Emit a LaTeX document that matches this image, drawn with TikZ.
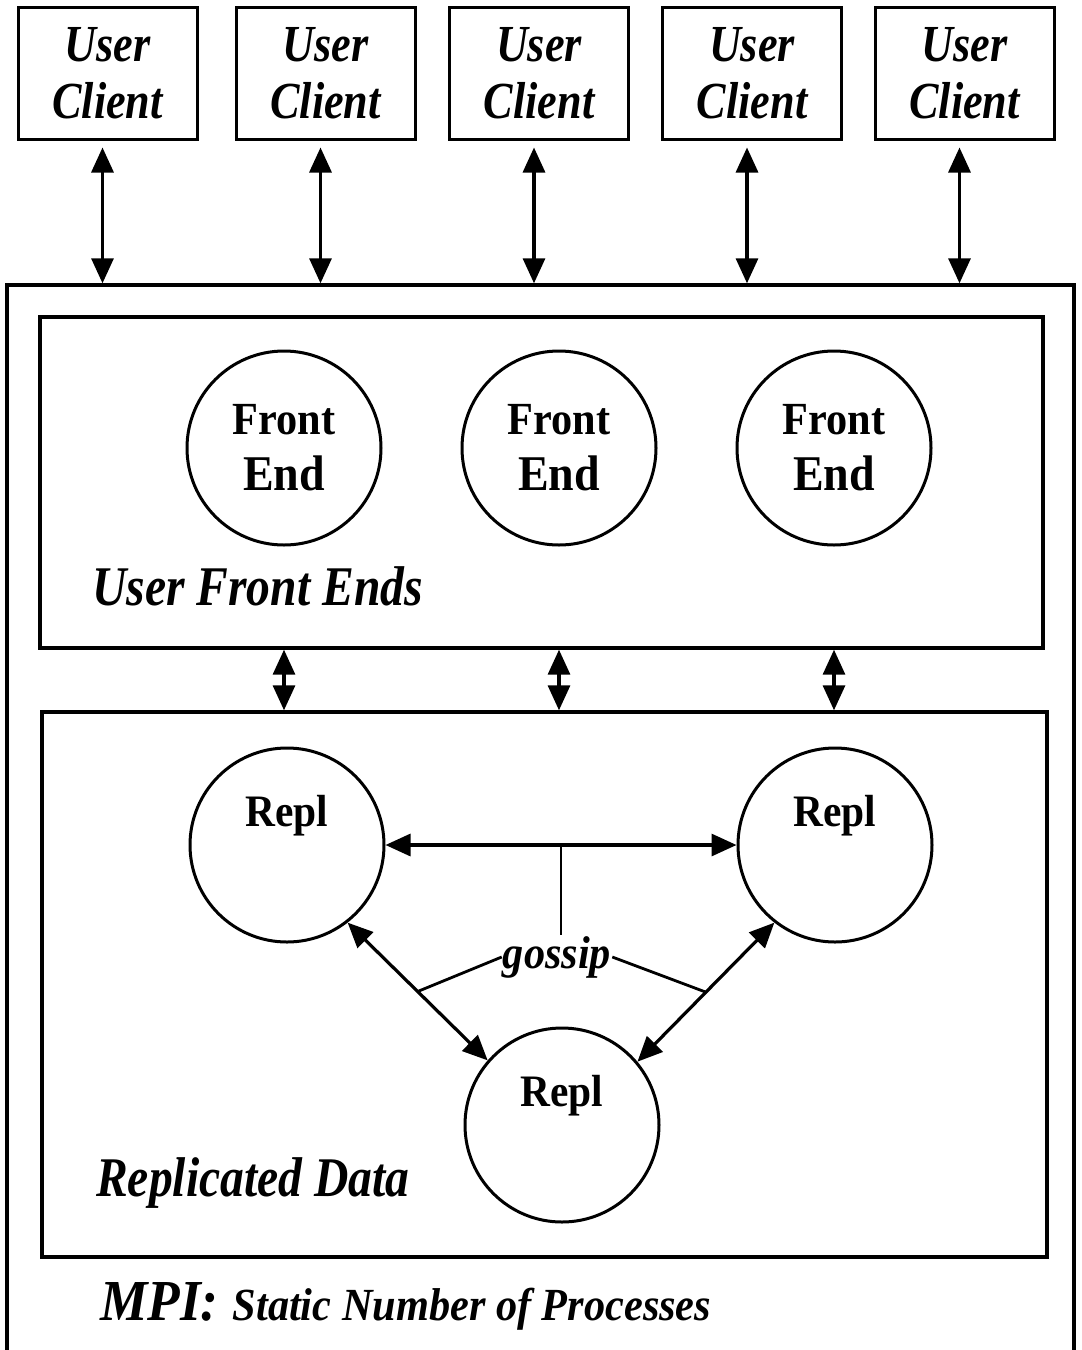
\documentclass[tikz,border=0pt]{standalone}
\usepackage{fontspec}
\setmainfont{Liberation Serif}
\newfontfamily\condensed[FakeStretch=0.85]{Liberation Serif}
\newfontfamily\slightcond[FakeStretch=0.92]{Liberation Serif}
\usetikzlibrary{arrows.meta}

\begin{document}
\begin{tikzpicture}[x=1pt, y=-1pt,
    box/.style={draw, line width=3.4pt, inner sep=0pt},
    client/.style={box, line width=3pt, minimum width=179pt, minimum height=132pt,
        align=center, font=\condensed\fontsize{52}{57}\selectfont\bfseries\itshape},
    proc/.style={draw, circle, line width=3pt, minimum size=194pt, inner sep=0pt,
        align=center, font=\slightcond\fontsize{48}{56}\selectfont\bfseries},
    dbl/.style={line width=3.2pt,
        {Triangle[length=25pt,width=22pt]}-{Triangle[length=25pt,width=22pt]}},
    boxlabel/.style={anchor=base west, inner sep=0pt,
        font=\condensed\fontsize{56}{60}\selectfont\bfseries\itshape},
    repltext/.style={anchor=base, inner sep=0pt, font=\slightcond\fontsize{45}{50}\selectfont\bfseries}]

    % Page frame
    \useasboundingbox (0,0) rectangle (1082,1350);
    \clip (0,0) rectangle (1082,1350);

    % Draw the user clients
    \foreach \i/\x in {1/107.5, 2/325.5, 3/539, 4/752, 5/964.5} {
        \node[client] (uc\i) at (\x,73) {User\\Client};
    }

    % Outer box, it runs past the bottom edge
    \node[box, minimum width=1067pt, minimum height=1115pt] (mpi) at (540.5,842.5) {};

    % Inner boxes
    \node[box, minimum width=1003pt, minimum height=331pt] (feb) at (541.5,482.5) {};
    \node[box, minimum width=1005pt, minimum height=545pt] (rdb) at (544.5,984.5) {};

    % Front ends
    \foreach \i/\x in {1/284, 2/559, 3/834} {
        \node[proc] (fe\i) at (\x,448) {{\fontsize{46}{56}\selectfont Front}\\{\fontsize{50}{56}\selectfont End}};
    }

    % Replicas
    \node[proc] (r1) at (287,845) {};
    \node[proc] (r2) at (835,845) {};
    \node[proc] (r3) at (562,1125) {};
    \foreach \r in {r1, r2, r3} {
        \node[repltext] (\r-text) at ([yshift=19pt]\r.center) {Repl};
    }

    % Client arrows
    \foreach \i in {1,...,5} {
        \draw[dbl, shorten <=7pt] ([xshift=-5pt]uc\i.south) -- ([xshift=-5pt]uc\i.south |- mpi.north);
    }

    % Front ends to replicated data
    \foreach \i in {1,2,3} {
        \draw[dbl] (fe\i |- feb.south) -- (fe\i |- rdb.north);
    }

    % Gossip between the replicas
    \node[inner sep=1pt, font=\slightcond\fontsize{46}{50}\selectfont\bfseries\itshape] (gossip) at (557,957) {gossip};
    \draw[dbl] (r1) -- coordinate[midway] (gtop) (r2);
    \draw[dbl] (r1.-52) -- coordinate[midway] (gl) (r3.139);
    \draw[dbl] (r2.-128) -- coordinate[midway] (gr) (r3.40);
    \draw[line width=2.8pt] (gtop) -- (gtop |- gossip.north);
    \draw[line width=2.8pt] (gossip.west) -- (gl);
    \draw[line width=2.8pt] (gossip.east) -- (gr);

    % Labels
    \node[boxlabel] (felabel) at (92,605) {User Front Ends};
    \node[boxlabel] (rdlabel) at (96,1196) {Replicated Data};
    \node[anchor=base west, inner sep=0pt, font=\slightcond\bfseries\itshape] (mpilabel) at (100,1320)
        {{\fontsize{58}{60}\selectfont MPI:}\hspace{14pt}{\fontsize{46}{50}\selectfont Static Number of Processes}};
\end{tikzpicture}
\end{document}
